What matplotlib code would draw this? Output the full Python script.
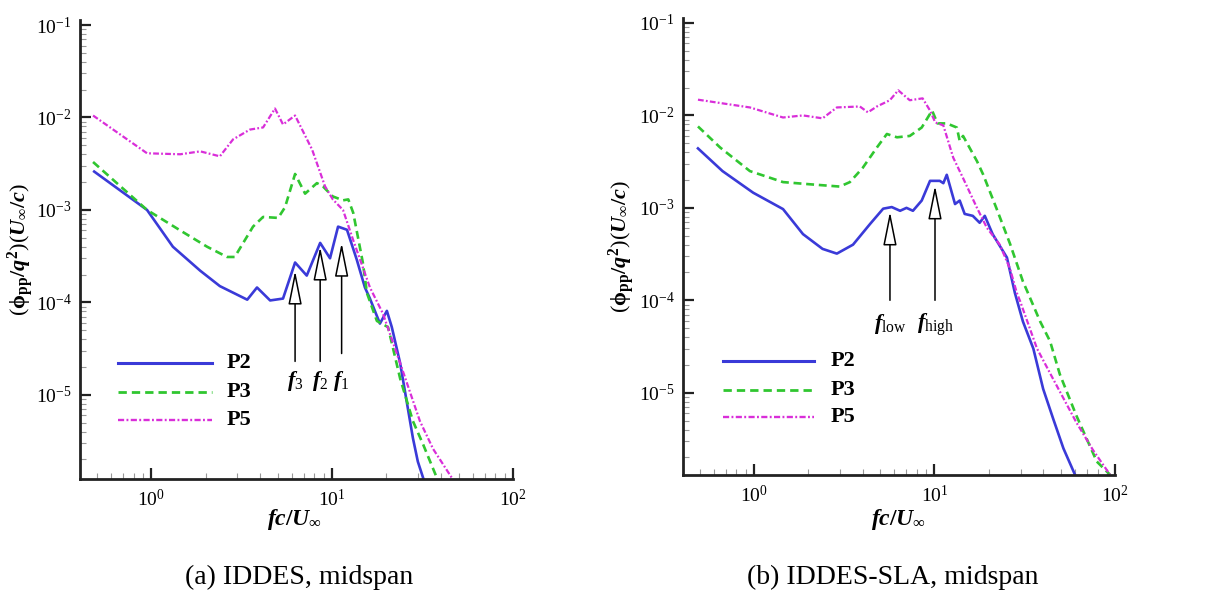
import numpy as np
import matplotlib
matplotlib.use("Agg")
import matplotlib.pyplot as plt
from matplotlib.ticker import LogLocator, NullFormatter

plt.rcParams['font.family'] = ['Liberation Serif', 'DejaVu Serif']
plt.rcParams['mathtext.fontset'] = 'custom'
plt.rcParams['mathtext.rm'] = 'Liberation Serif'
plt.rcParams['mathtext.it'] = 'Liberation Serif:italic:bold'
plt.rcParams['mathtext.bf'] = 'Liberation Serif:bold'

# ---------------- data: (a) IDDES, midspan ----------------
a_p2_x = [0.485, 0.95, 1.32, 1.87, 2.4, 3.4, 3.85, 4.55, 5.36, 6.25, 7.25, 8.6, 9.75,
          10.8, 12.1, 13.7, 15.2, 16.2, 18.4, 20.1, 21.4, 23.8, 28.0, 29.8, 31.9]
a_p2_y = [2.6e-3, 1.0e-3, 4.0e-4, 2.2e-4, 1.5e-4, 1.07e-4, 1.45e-4, 1.05e-4, 1.1e-4, 2.7e-4,
          1.95e-4, 4.4e-4, 3.0e-4, 6.6e-4, 6.1e-4, 2.9e-4, 1.45e-4, 1.1e-4, 5.9e-5, 8.1e-5,
          5.4e-5, 2.2e-5, 3.4e-6, 1.9e-6, 1.26e-6]
a_p3_x = [0.478, 0.95, 1.45, 2.04, 2.63, 2.9, 3.66, 4.16, 5.04, 5.5, 6.25, 7.1, 8.25, 8.9,
          10.1, 11.5, 12.3, 13.1, 14.8, 15.6, 17.7, 20.4, 23.8, 28.0, 31.9, 38.0]
a_p3_y = [3.3e-3, 1.0e-3, 6.0e-4, 4.0e-4, 3.1e-4, 3.1e-4, 6.6e-4, 8.4e-4, 8.2e-4, 1.07e-3,
          2.45e-3, 1.5e-3, 1.95e-3, 1.8e-3, 1.4e-3, 1.27e-3, 1.3e-3, 9.3e-4, 2.7e-4, 1.26e-4,
          6.3e-5, 5.4e-5, 1.5e-5, 5.2e-6, 2.9e-6, 1.26e-6]
a_p5_x = [0.478, 0.95, 1.45, 1.87, 2.4, 2.84, 3.52, 4.16, 4.84, 5.36, 6.25, 7.76, 9.15,
          10.1, 11.5, 13.1, 16.2, 19.1, 23.8, 30.6, 36.2, 46.0]
a_p5_y = [1.05e-2, 4.1e-3, 4.0e-3, 4.3e-3, 3.8e-3, 5.8e-3, 7.4e-3, 7.8e-3, 1.25e-2, 8.4e-3,
          1.05e-2, 4.5e-3, 1.8e-3, 1.3e-3, 1.0e-3, 4.7e-4, 1.45e-4, 7.6e-5, 2.2e-5, 5.2e-6,
          2.6e-6, 1.26e-6]
a_arrow_x = [6.25, 8.6, 11.3]
a_arrow_head = [2.2e-4, 4.0e-4, 4.4e-4]
a_arrow_tail = [2.3e-5, 2.3e-5, 2.8e-5]
a_arrow_labels = [r'$f_{\mathrm{3}}$', r'$f_{\mathrm{2}}$', r'$f_{\mathrm{1}}$']
a_label_y = 1.4e-5

# ---------------- data: (b) IDDES-SLA, midspan ----------------
b_p2_x = [0.49, 0.67, 0.99, 1.45, 1.87, 2.4, 2.88, 3.54, 4.4, 5.2, 5.8, 6.45, 7.0, 7.6, 8.5,
          9.45, 10.7, 11.2, 11.7, 13.0, 13.8, 14.7, 16.3, 17.8, 19.0, 21.0, 25.2, 27.9, 30.9,
          35.3, 40.0, 45.5, 51.8, 60.0]
b_p2_y = [4.4e-3, 2.5e-3, 1.46e-3, 9.7e-4, 5.2e-4, 3.6e-4, 3.2e-4, 4.0e-4, 6.7e-4, 9.8e-4,
          1.02e-3, 9.3e-4, 1.0e-3, 9.3e-4, 1.2e-3, 1.96e-3, 1.96e-3, 1.85e-3, 2.28e-3, 1.1e-3,
          1.2e-3, 8.6e-4, 8.2e-4, 6.9e-4, 8.2e-4, 5.2e-4, 2.9e-4, 1.2e-4, 5.9e-5, 3.0e-5,
          1.1e-5, 5.2e-6, 2.5e-6, 1.3e-6]
b_p3_x = [0.49, 0.65, 0.95, 1.45, 2.04, 2.99, 3.4, 4.0, 4.8, 5.45, 6.2, 7.3, 8.5, 9.7, 10.4,
          11.7, 13.3, 13.8, 14.4, 17.2, 18.6, 22.0, 26.2, 30.9, 32.6, 38.5, 43.7, 49.5, 61.0,
          79.3, 93.8]
b_p3_y = [7.6e-3, 4.5e-3, 2.5e-3, 1.9e-3, 1.8e-3, 1.7e-3, 1.9e-3, 2.7e-3, 4.5e-3, 6.3e-3,
          5.8e-3, 6.0e-3, 7.4e-3, 1.13e-2, 8.2e-3, 8.2e-3, 7.4e-3, 5.3e-3, 6.0e-3, 3.2e-3,
          2.3e-3, 1.0e-3, 4.1e-4, 1.6e-4, 1.26e-4, 5.9e-5, 3.6e-5, 1.58e-5, 5.7e-6, 1.8e-6,
          1.3e-6]
b_p5_x = [0.49, 0.95, 1.45, 1.87, 2.4, 2.88, 3.86, 4.28, 4.8, 5.66, 6.3, 7.3, 8.6, 9.45,
          10.1, 11.2, 12.7, 14.4, 17.2, 19.5, 23.0, 26.2, 28.6, 29.8, 37.0, 45.5, 61.0, 75.5,
          93.8]
b_p5_y = [1.48e-2, 1.22e-2, 9.5e-3, 1.0e-2, 9.3e-3, 1.22e-2, 1.25e-2, 1.08e-2, 1.25e-2,
          1.46e-2, 1.87e-2, 1.46e-2, 1.53e-2, 1.13e-2, 8.4e-3, 7.8e-3, 3.5e-3, 2.1e-3, 1.0e-3,
          6.1e-4, 4.0e-4, 2.2e-4, 1.2e-4, 9.8e-5, 3.0e-5, 1.4e-5, 4.8e-6, 2.4e-6, 1.3e-6]
b_arrow_x = [5.67, 10.07]
b_arrow_head = [9.1e-4, 1.74e-3]
b_arrow_tail = [1.0e-4, 1.0e-4]
b_arrow_labels = [r'$f_{\mathrm{low}}$', r'$f_{\mathrm{high}}$']
b_label_y = 5.5e-5

series_names = ['P2', 'P3', 'P5']
captions = ['(a) IDDES, midspan', '(b) IDDES-SLA, midspan']

C_BLUE = '#3a3ad8'
C_GREEN = '#30c630'
C_MAG = '#d92ed9'

fig = plt.figure(figsize=(12.15, 5.94), dpi=100)
ax_a = fig.add_axes([0.0658, 0.1936, 0.3564, 0.7727])
ax_b = fig.add_axes([0.5621, 0.2003, 0.3556, 0.7694])


def style_axes(ax, ylo):
    ax.set_xscale('log')
    ax.set_yscale('log')
    ax.set_xlim(10 ** -0.393, 100)
    ax.set_ylim(ylo, 10 ** -0.946)
    for s in ['top', 'right']:
        ax.spines[s].set_visible(False)
    for s in ['left', 'bottom']:
        ax.spines[s].set_linewidth(2.0)
        ax.spines[s].set_color('#222222')
    ax.xaxis.set_major_locator(LogLocator(base=10, numticks=10))
    ax.xaxis.set_minor_locator(LogLocator(base=10, subs=np.arange(2, 10), numticks=20))
    ax.yaxis.set_major_locator(LogLocator(base=10, numticks=10))
    ax.yaxis.set_minor_locator(LogLocator(base=10, subs=np.arange(2, 10), numticks=20))
    ax.xaxis.set_minor_formatter(NullFormatter())
    ax.yaxis.set_minor_formatter(NullFormatter())
    ax.tick_params(which='major', direction='in', length=8, width=1.6, labelsize=14,
                   color='#222222', pad=6)
    ax.tick_params(which='minor', direction='in', length=4, width=0.8, color='#999999')
    ax.tick_params(axis='x', which='major', pad=7)


def draw(ax, p2x, p2y, p3x, p3y, p5x, p5y, ax_x, ax_head, ax_tail, labels, ly, leg):
    ax.plot(p2x, p2y, color=C_BLUE, lw=1.9, solid_joinstyle='round')
    ax.plot(p3x, p3y, color=C_GREEN, lw=1.9, dashes=(3.0, 1.8))
    ax.plot(p5x, p5y, color=C_MAG, lw=1.6, dashes=(2.6, 1.0, 0.8, 1.0))
    for x, h, t, lab in zip(ax_x, ax_head, ax_tail, labels):
        ax.annotate('', xy=(x, h), xytext=(x, t),
                    arrowprops=dict(arrowstyle='-|>,head_length=2.1,head_width=0.42',
                                    mutation_scale=10, fc='white', ec='black', lw=1.1,
                                    shrinkA=0, shrinkB=0))
        ax.text(x, ly, lab, ha='center', va='center', fontsize=16)
    # legend
    x0, x1, xt, ys = leg
    styles = [dict(color=C_BLUE, lw=2.2), dict(color=C_GREEN, lw=2.0, dashes=(3.0, 1.8)),
              dict(color=C_MAG, lw=1.7, dashes=(2.6, 1.0, 0.8, 1.0))]
    for name, st, y in zip(series_names, styles, ys):
        ax.plot([x0, x1], [y, y], transform=ax.transAxes, clip_on=False, **st)
        ax.text(xt, y, name, transform=ax.transAxes, ha='left', va='center',
                fontsize=16, fontweight='bold')


style_axes(ax_a, 10 ** -5.91)
style_axes(ax_b, 10 ** -5.89)
draw(ax_a, a_p2_x, a_p2_y, a_p3_x, a_p3_y, a_p5_x, a_p5_y,
     a_arrow_x, a_arrow_head, a_arrow_tail, a_arrow_labels, a_label_y,
     (0.0878, 0.3048, 0.3395, (0.2527, 0.1895, 0.1285)))
draw(ax_b, b_p2_x, b_p2_y, b_p3_x, b_p3_y, b_p5_x, b_p5_y,
     b_arrow_x, b_arrow_head, b_arrow_tail, b_arrow_labels, b_label_y,
     (0.0926, 0.3032, 0.3426, (0.2495, 0.186, 0.127)))

ylab = r'$(\mathbf{\phi}_{\mathbf{pp}}\mathbf{/}q^{\mathbf{2}})(U_{\mathbf{\infty}}\mathbf{/}c)$'
xlab = r'$fc\mathbf{/}U_{\infty}$'
for ax, yx, xx in [(ax_a, 21, 295), (ax_b, 622, 899)]:
    pos = ax.get_position()
    fig.text(yx / 1215, (pos.y0 + pos.y1) / 2, ylab, rotation=90, ha='center', va='center',
             fontsize=16)
    fig.text(xx / 1215, 1 - 520 / 594, xlab, ha='center', va='center', fontsize=17)

fig.text(299 / 1215, 1 - 577 / 594, captions[0], ha='center', va='center', fontsize=20)
fig.text(893 / 1215, 1 - 577 / 594, captions[1], ha='center', va='center', fontsize=20)

fig.savefig('out.png', dpi=100, facecolor='white')
